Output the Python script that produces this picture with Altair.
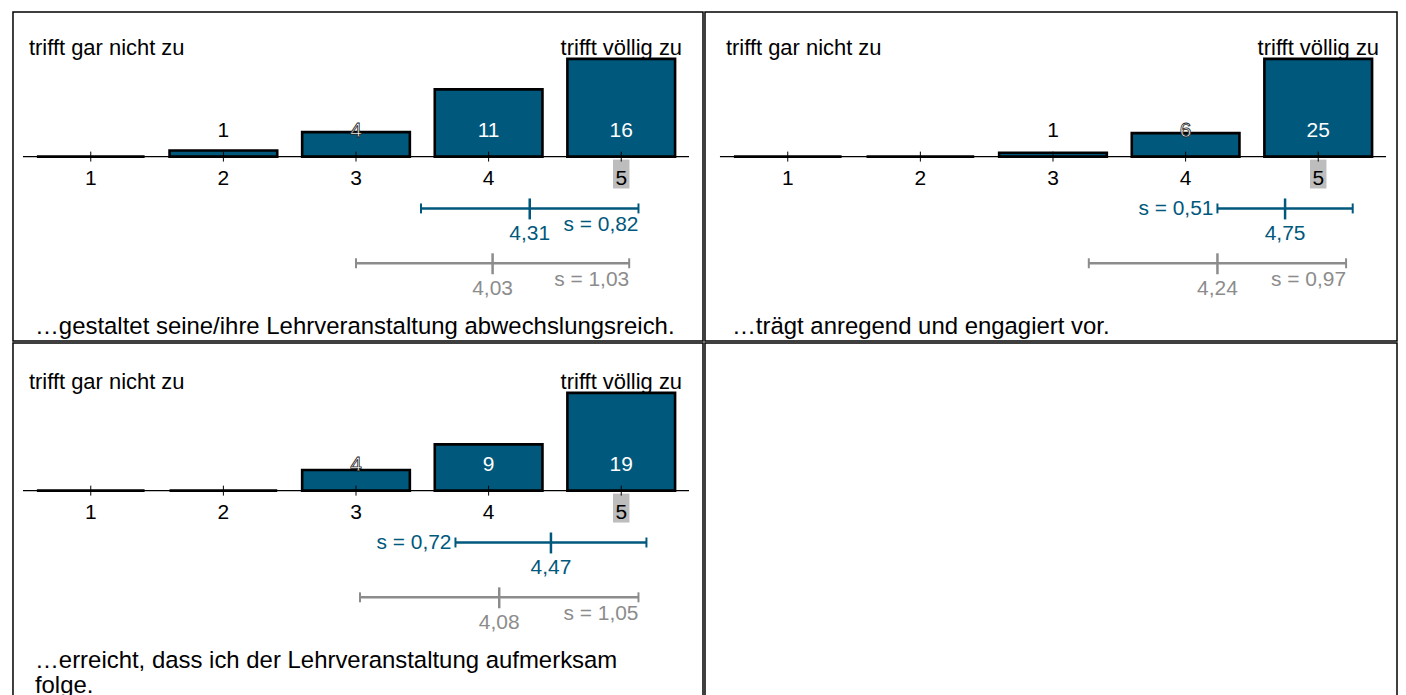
import altair as alt
import pandas as pd

# ---------------- data ----------------
items = [
    "…gestaltet seine/ihre Lehrveranstaltung abwechslungsreich.",
    "…trägt anregend und engagiert vor.",
    "…erreicht, dass ich der Lehrveranstaltung aufmerksam\nfolge.",
]
categories = [1, 2, 3, 4, 5]
cat_labels = ["1", "2", "3", "4", "5"]
counts = [
    [0, 1, 4, 11, 16],
    [0, 0, 1, 6, 25],
    [0, 0, 4, 9, 19],
]
means = [4.31, 4.75, 4.47]
sds = [0.82, 0.51, 0.72]
cmp_means = [4.03, 4.24, 4.08]
cmp_sds = [1.03, 0.97, 1.05]
anchor_low = "trifft gar nicht zu"
anchor_high = "trifft völlig zu"

# ---------------- styles ----------------
BLUE = "#00587c"
GRAY = "#8c8c8c"
HILITE = "#bdbdbd"
FONT = "Liberation Sans"
FS = 21


def panel(i, dx, dy, w, h):
    bars_df = pd.DataFrame({"cat": categories, "label": cat_labels, "count": counts[i]})
    own_df = pd.DataFrame({"mean": [means[i]], "sd": [sds[i]]})
    cmp_df = pd.DataFrame({"mean": [cmp_means[i]], "sd": [cmp_sds[i]]})
    txt_df = pd.DataFrame({"q": [items[i]], "lo": [anchor_low], "hi": [anchor_high]})

    xs = alt.Scale(domain=[1, 5], range=[78 + dx, 610 + dx], padding=0, zero=False, nice=False)
    ys = alt.Scale(domain=[0, max(counts[i])], range=[145 + dy, 47 + dy], padding=0, nice=False)

    def X(f):
        return alt.X(f, type="quantitative", scale=xs, axis=None)

    bars_base = alt.Chart(bars_df)

    hl = (
        bars_base.transform_joinaggregate(maxc="max(count)")
        .transform_filter("datum.count == datum.maxc")
        .transform_calculate(xl="datum.cat - 0.062", xr="datum.cat + 0.062")
        .mark_rect(color=HILITE)
        .encode(x=X("xl"), x2="xr:Q", y=alt.value(148 + dy), y2=alt.value(177 + dy))
    )
    baseline = alt.Chart(txt_df).mark_rule(color="black", strokeWidth=1.2).encode(
        x=alt.value(10 + dx), x2=alt.value(678 + dx), y=alt.value(145 + dy)
    )
    bars = bars_base.mark_bar(size=108, fill=BLUE, stroke="black", strokeWidth=2.6).encode(
        x=X("cat"), y=alt.Y("count:Q", scale=ys, axis=None), y2=alt.datum(0)
    )
    ticks = bars_base.mark_rule(color="black", strokeWidth=1).encode(
        x=X("cat"), y=alt.value(140 + dy), y2=alt.value(150 + dy)
    )
    lab_base = (
        bars_base.transform_filter("datum.count > 0")
        .transform_joinaggregate(maxc="max(count)")
        .transform_calculate(frac="datum.count / datum.maxc")
    )
    lab_white = lab_base.transform_filter("datum.frac > 0.4").mark_text(
        font=FONT, fontSize=FS, color="white", baseline="middle"
    ).encode(x=X("cat"), y=alt.value(119 + dy), text="count:Q")
    lab_out = lab_base.transform_filter("datum.frac > 0.15 && datum.frac <= 0.4").mark_text(
        font=FONT, fontSize=FS, color="white", stroke="#222222", strokeWidth=0.8, baseline="middle"
    ).encode(x=X("cat"), y=alt.value(119 + dy), text="count:Q")
    lab_black = lab_base.transform_filter("datum.frac <= 0.15").mark_text(
        font=FONT, fontSize=FS, color="black", baseline="middle"
    ).encode(x=X("cat"), y=alt.value(119 + dy), text="count:Q")
    ticklabels = bars_base.mark_text(font=FONT, fontSize=FS, color="black", baseline="middle").encode(
        x=X("cat"), y=alt.value(167 + dy), text="label:N"
    )

    def errbar(df, color, yb):
        base = alt.Chart(df).transform_calculate(
            lo="datum.mean - datum.sd",
            hi="datum.mean + datum.sd",
            mlab="replace(format(datum.mean, '.2f'), '.', ',')",
            slab="'s = ' + replace(format(datum.sd, '.2f'), '.', ',')",
        )
        line = base.mark_rule(color=color, strokeWidth=2.5).encode(
            x=X("lo"), x2="hi:Q", y=alt.value(yb)
        )
        capl = base.mark_rule(color=color, strokeWidth=2).encode(
            x=X("lo"), y=alt.value(yb - 5), y2=alt.value(yb + 5)
        )
        caph = base.mark_rule(color=color, strokeWidth=2).encode(
            x=X("hi"), y=alt.value(yb - 5), y2=alt.value(yb + 5)
        )
        mtick = base.mark_rule(color=color, strokeWidth=2.5).encode(
            x=X("mean"), y=alt.value(yb - 10), y2=alt.value(yb + 11)
        )
        mtext = base.mark_text(font=FONT, fontSize=FS, color=color, baseline="middle").encode(
            x=X("mean"), y=alt.value(yb + 26), text="mlab:N"
        )
        s_right = base.transform_filter("datum.sd >= 0.79").mark_text(
            font=FONT, fontSize=FS, color=color, align="right", baseline="middle"
        ).encode(x=X("hi"), y=alt.value(yb + 17), text="slab:N")
        s_left = base.transform_filter("datum.sd < 0.79").mark_text(
            font=FONT, fontSize=FS, color=color, align="right", baseline="middle", dx=-4
        ).encode(x=X("lo"), y=alt.value(yb + 1), text="slab:N")
        return [line, capl, caph, mtick, mtext, s_right, s_left]

    txt_base = alt.Chart(txt_df)
    a_lo = txt_base.mark_text(font=FONT, fontSize=22, color="black", align="left", baseline="middle").encode(
        x=alt.value(16 + dx), y=alt.value(36 + dy), text="lo:N"
    )
    a_hi = txt_base.mark_text(font=FONT, fontSize=22, color="black", align="right", baseline="middle").encode(
        x=alt.value(671 + dx), y=alt.value(36 + dy), text="hi:N"
    )
    q = txt_base.mark_text(
        font=FONT, fontSize=24, color="black", align="left", baseline="top", lineBreak="\n", lineHeight=25
    ).encode(x=alt.value(22 + dx), y=alt.value(304 + dy), text="q:N")

    layers = [hl, baseline, bars, ticks, lab_white, lab_out, lab_black, ticklabels]
    layers += errbar(own_df, BLUE, 197 + dy)
    layers += errbar(cmp_df, GRAY, 252 + dy)
    layers += [a_lo, a_hi, q]
    return alt.layer(*layers).properties(width=w, height=h)


def empty_panel(w, h):
    return (
        alt.Chart(pd.DataFrame({"a": [0]}))
        .mark_point(opacity=0)
        .encode(x=alt.X("a:Q", axis=None), y=alt.Y("a:Q", axis=None))
        .properties(width=w, height=h)
    )


row1 = alt.hconcat(panel(0, 0, 0, 692, 330), panel(1, 5, 0, 694, 330), spacing=0)
row2 = alt.hconcat(panel(2, 0, 3, 692, 370), empty_panel(694, 370), spacing=0)

chart = (
    alt.vconcat(row1, row2, spacing=0)
    .resolve_scale(x="independent", y="independent")
    .properties(padding={"left": 4, "top": 2, "right": 0, "bottom": 0})
    .configure_view(stroke="black", strokeWidth=1.5)
)

chart.save("out.html", embed_options={"renderer": "svg", "actions": False})
